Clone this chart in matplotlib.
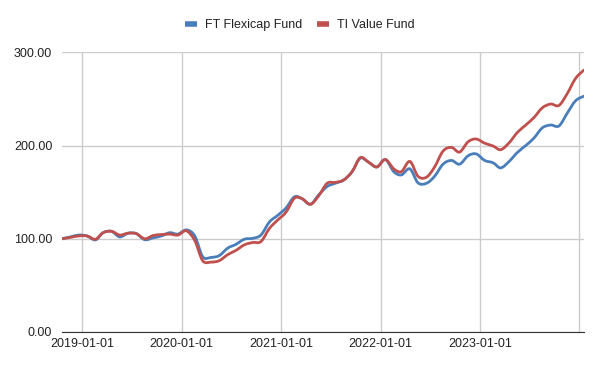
import numpy as np
import pandas as pd
import matplotlib
matplotlib.use('Agg')
import matplotlib.pyplot as plt
import matplotlib.dates as mdates
from matplotlib.path import Path
from matplotlib.patches import PathPatch
from matplotlib.lines import Line2D

# monthly observations, Oct 2018 .. Jan 2024
dates = pd.date_range('2018-10-01', '2024-01-01', freq='MS') + pd.Timedelta(days=17)

flexicap = [100, 102, 104, 103, 98.8, 106.5, 108, 102, 106, 105.5, 99, 101, 103, 106.5,
            105, 109.5, 103, 80.7, 80, 82, 90, 94, 99.5, 100.5, 104, 118, 125, 133,
            145, 143, 137, 147, 156, 159.5, 163, 172, 186.5, 182, 177, 185, 172, 168.5,
            175, 160, 159.5, 167, 180, 184, 180, 189, 191, 184, 181.5, 176, 183, 192.5,
            200, 208, 219, 222, 221, 235, 248, 253]
ti_value = [100, 101.5, 103, 103, 99.5, 106.5, 108, 104, 106, 105.5, 100, 103.5, 104.5, 105,
            104, 108.5, 98, 76.4, 75, 76.5, 83, 87.5, 93.5, 96, 97, 111, 120, 128.5,
            143.5, 143, 137, 146, 159.5, 160.5, 163, 172, 187, 182, 177, 185, 175, 172,
            183, 167, 166, 177, 194, 198, 193, 204, 207, 202.5, 199.5, 195.5, 203, 214,
            222, 230, 240.5, 244.5, 243, 256, 272, 281]

names = ['FT Flexicap Fund', 'TI Value Fund']
colors = ['#4A7EBB', '#C0504D']
year_ticks = pd.to_datetime(['2019-01-01', '2020-01-01', '2021-01-01', '2022-01-01',
                             '2023-01-01', '2024-01-01'])
year_labels = ['2019-01-01', '2020-01-01', '2021-01-01', '2022-01-01', '2023-01-01', '']
y_ticks = [0, 100, 200, 300]


def smooth_path(x, y):
    # Catmull-Rom curve through the points, drawn as cubic Bezier segments
    x = np.asarray(x, float)
    y = np.asarray(y, float)
    px = np.concatenate([[x[0]], x, [x[-1]]])
    py = np.concatenate([[y[0]], y, [y[-1]]])
    verts = [(x[0], y[0])]
    codes = [Path.MOVETO]
    for i in range(1, len(px) - 2):
        c1 = (px[i] + (px[i + 1] - px[i - 1]) / 6, py[i] + (py[i + 1] - py[i - 1]) / 6)
        c2 = (px[i + 1] - (px[i + 2] - px[i]) / 6, py[i + 1] - (py[i + 2] - py[i]) / 6)
        verts += [c1, c2, (px[i + 1], py[i + 1])]
        codes += [Path.CURVE4] * 3
    return Path(verts, codes)


plt.rcParams['font.family'] = ['Liberation Sans', 'DejaVu Sans']

fig = plt.figure(figsize=(6, 3.71), dpi=100)
ax = fig.add_axes([62 / 600, 1 - 332 / 371, 522 / 600, (332 - 52.3) / 371])

xnum = mdates.date2num(dates)
handles = []
for vals, name, c in zip([flexicap, ti_value], names, colors):
    ax.add_patch(PathPatch(smooth_path(xnum, vals), fill=False, edgecolor=c, lw=2,
                           joinstyle='round', capstyle='round', zorder=3))
    handles.append(Line2D([], [], color=c, lw=4, solid_capstyle='butt', label=name))

ax.set_xlim(dates[0], dates[-1])
ax.set_ylim(0, 300)
ax.xaxis_date()
ax.set_yticks(y_ticks)
ax.set_yticklabels([f'{v:.2f}' for v in y_ticks])
ax.set_xticks(year_ticks)
ax.set_xticklabels(year_labels)

ax.grid(True, color='#cccccc', lw=1)
ax.set_axisbelow(True)
for s in ['top', 'right', 'left']:
    ax.spines[s].set_visible(False)
ax.spines['bottom'].set_color('#333333')
ax.spines['bottom'].set_zorder(1)
ax.tick_params(length=0, labelsize=9, labelcolor='#222222')
ax.tick_params(axis='y', pad=7)
ax.tick_params(axis='x', pad=4)

leg = fig.legend(handles=handles, loc='center', bbox_to_anchor=(0.5, 1 - 25 / 371),
                 ncol=2, frameon=False, fontsize=9, handlelength=0.95,
                 handletextpad=0.65, columnspacing=1.2)
for t in leg.get_texts():
    t.set_color('#222222')

fig.savefig('out.png', dpi=100)
